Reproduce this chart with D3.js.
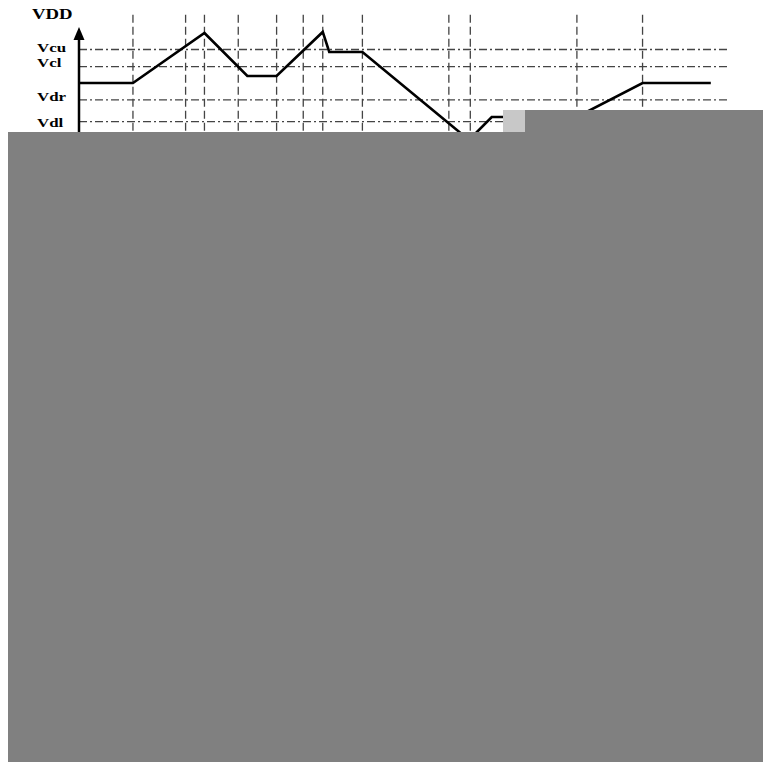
<!DOCTYPE html>
<html>
<head>
<meta charset="utf-8">
<script src="https://cdn.jsdelivr.net/npm/d3@7/dist/d3.min.js"></script>
<style>
  html, body { margin: 0; padding: 0; background: #fff; }
  svg { display: block; }
  .lbl { font-family: "Liberation Serif", "DejaVu Serif", serif; font-weight: bold; fill: #000; }
</style>
</head>
<body>
<svg id="chart" width="765" height="775"></svg>
<script>
'use strict';

// Threshold levels (arbitrary voltage units)
const levelNames = ['Vcu', 'Vcl', 'Vdr', 'Vdl'];
const levelValues = [7.73, 6.42, 3.85, 2.18];

// Time marks where the dashed verticals sit
const markTimes = [8.3, 16.4, 19.3, 24.5, 30.4, 34.5, 37.5, 43.6, 56.9, 60.2, 76.6, 86.7];

// Cell voltage waveform
const waveTimes = [0, 8.3, 19.3, 25.9, 30.4, 37.5, 38.5, 43.6, 60.0, 63.5, 76.6, 86.7, 97.2];
const waveValues = [5.15, 5.15, 9.0, 5.69, 5.69, 9.08, 7.54, 7.54, 0.77, 2.54, 2.54, 5.15, 5.15];

const svg = d3.select('#chart');

const x = d3.scaleLinear().domain([0, 100]).range([79, 729]);
const y = d3.scaleLinear().domain([0, 10]).range([150, 20]);

// Horizontal dash-dot level lines
svg.append('g').selectAll('line')
  .data(levelValues)
  .join('line')
  .attr('x1', x(0)).attr('x2', x(100))
  .attr('y1', d => y(d)).attr('y2', d => y(d))
  .attr('stroke', '#444')
  .attr('stroke-width', 1.3)
  .attr('stroke-dasharray', '8,3,2,3');

// Vertical dashed time marks
svg.append('g').selectAll('line')
  .data(markTimes)
  .join('line')
  .attr('x1', d => x(d)).attr('x2', d => x(d))
  .attr('y1', y(10.4)).attr('y2', y(0))
  .attr('stroke', '#444')
  .attr('stroke-width', 1.3)
  .attr('stroke-dasharray', '8,4');

// Y axis with arrow
const ax = x(0);
svg.append('line')
  .attr('x1', ax).attr('x2', ax)
  .attr('y1', y(0)).attr('y2', y(8.6))
  .attr('stroke', '#000').attr('stroke-width', 2.5);
svg.append('path')
  .attr('d', `M${ax},${y(9.46)} L${ax - 5.5},${y(8.46)} L${ax + 5.5},${y(8.46)} Z`)
  .attr('fill', '#000');

// Waveform
const line = d3.line().x(d => x(d[0])).y(d => y(d[1]));
svg.append('path')
  .datum(d3.zip(waveTimes, waveValues))
  .attr('d', line)
  .attr('fill', 'none')
  .attr('stroke', '#000')
  .attr('stroke-width', 2.6)
  .attr('stroke-linejoin', 'miter');

// Labels (Vcu/Vcl sit close, so nudge them apart)
const labelNudge = { Vcu: 2, Vcl: 0, Vdr: 1, Vdl: 5 };
svg.append('g').selectAll('text')
  .data(d3.zip(levelNames, levelValues))
  .join('text')
  .attr('class', 'lbl')
  .attr('font-size', 13)
  .attr('transform', d => `translate(37,${y(d[1]) + labelNudge[d[0]]}) scale(1.3,1)`)
  .text(d => d[0]);

svg.append('text')
  .attr('class', 'lbl')
  .attr('font-size', 15)
  .attr('transform', 'translate(32,19) scale(1.25,1)')
  .text('VDD');

// Occluding blocks in the reference picture
svg.append('rect').attr('x', 503).attr('y', 110).attr('width', 22).attr('height', 22).attr('fill', '#c8c8c8');
svg.append('rect').attr('x', 525).attr('y', 110).attr('width', 238).attr('height', 22).attr('fill', '#808080');
svg.append('rect').attr('x', 8).attr('y', 132).attr('width', 755).attr('height', 630).attr('fill', '#808080');
</script>
</body>
</html>
